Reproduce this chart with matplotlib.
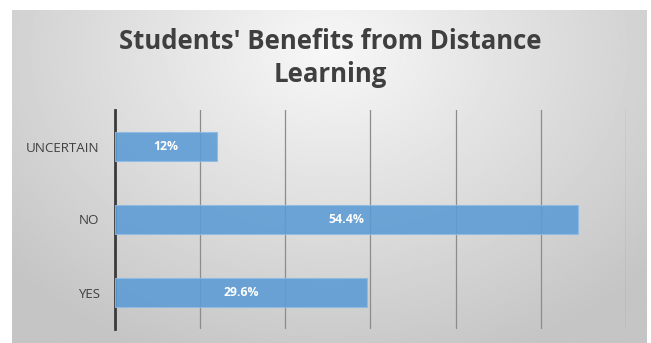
import numpy as np
import matplotlib.pyplot as plt

categories = ["YES", "NO", "UNCERTAIN"]
values = [29.6, 54.4, 12.0]
labels = ["29.6%", "54.4%", "12%"]
title = "Students' Benefits from Distance\nLearning"

W, H, DPI = 651, 343, 100
fig = plt.figure(figsize=(W / DPI, H / DPI), dpi=DPI)
fig.patch.set_facecolor("white")

# chart frame with a soft radial grey gradient
frame = [12 / W, 0, (647 - 12) / W, (343 - 10) / H]
bg = fig.add_axes(frame, zorder=0)
yy, xx = np.mgrid[0:1:200j, 0:1:400j]
r = np.sqrt(((xx - 0.5) / 0.75) ** 2 + ((yy - 0.88) / 1.1) ** 2)
shade = np.clip(0.97 - 0.22 * r, 0.77, 0.97)
bg.imshow(shade, cmap="gray", vmin=0, vmax=1, aspect="auto",
          origin="lower", extent=[0, 1, 0, 1])
bg.set_axis_off()

left, right = 115 / W, 626 / W
top, bottom = 1 - 110 / H, 1 - 329 / H
ax = fig.add_axes([left, bottom, right - left, top - bottom], zorder=1)
ax.patch.set_alpha(0)

y = np.arange(len(categories))
bars = ax.barh(y, values, height=0.39, color="#5b9bd5", alpha=0.88,
               edgecolor="#8dbbe6", linewidth=0.8, zorder=3)
for b, lab in zip(bars, labels):
    ax.text(b.get_width() / 2, b.get_y() + b.get_height() / 2, lab,
            ha="center", va="center", color="white", fontsize=8.8,
            fontweight="bold", family="Open Sans", zorder=4)

ax.set_xlim(0, 60)
ax.set_ylim(-0.5, 2.5)
ax.set_xticks(np.arange(0, 61, 10))
ax.xaxis.grid(True, color="#8c8c8c", linewidth=0.9, zorder=0)
ax.tick_params(axis="x", length=0, labelbottom=False)
ax.set_yticks(y)
ax.set_yticklabels(categories, fontsize=9.6, color="#404040",
                   family="Open Sans", va="center_baseline")
ax.tick_params(axis="y", length=0, pad=11)
for s in ["top", "right", "bottom"]:
    ax.spines[s].set_visible(False)
ax.spines["left"].set_color("#3a3a3a")
ax.spines["left"].set_linewidth(2)

fig.text(330 / W, 1 - 58 / H, title, ha="center", va="center",
         fontsize=18.5, fontweight="bold", color="#3f3f3f",
         family="Open Sans", linespacing=1.3)

fig.savefig("out.png", dpi=DPI)
